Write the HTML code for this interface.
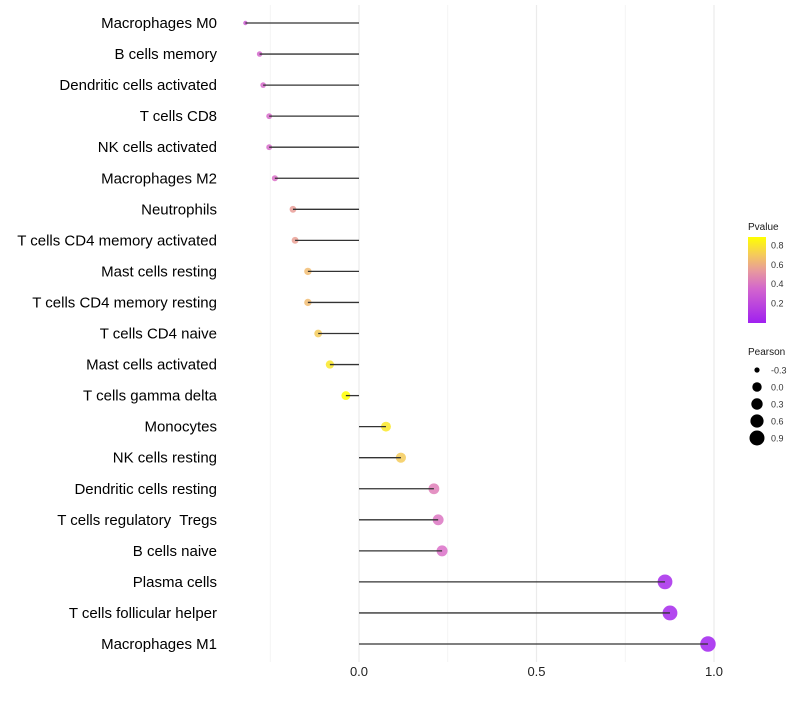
<!DOCTYPE html>
<html><head><meta charset="utf-8"><style>
body{margin:0;background:#fff;font-family:"Liberation Sans",sans-serif}
svg text{font-family:"Liberation Sans",sans-serif;white-space:pre}
</style></head><body>
<svg id="c" width="800" height="700"></svg>
<script>
const categories=["Macrophages M0","B cells memory","Dendritic cells activated","T cells CD8","NK cells activated","Macrophages M2","Neutrophils","T cells CD4 memory activated","Mast cells resting","T cells CD4 memory resting","T cells CD4 naive","Mast cells activated","T cells gamma delta","Monocytes","NK cells resting","Dendritic cells resting","T cells regulatory  Tregs","B cells naive","Plasma cells","T cells follicular helper","Macrophages M1"];
const pearson=[-0.32,-0.28,-0.27,-0.253,-0.253,-0.237,-0.186,-0.18,-0.144,-0.144,-0.115,-0.082,-0.037,0.076,0.118,0.211,0.223,0.234,0.862,0.876,0.983];
const pvalue=[0.3,0.35,0.37,0.38,0.38,0.4,0.55,0.56,0.65,0.65,0.7,0.8,0.88,0.8,0.7,0.45,0.42,0.4,0.05,0.04,0.01];
const xTicks=[0,0.5,1.0];
const xTickLabels=["0.0","0.5","1.0"];
const minorTicks=[-0.25,0.25,0.75];
const legendP=[0.8,0.6,0.4,0.2];
const legendR=[-0.3,0.0,0.3,0.6,0.9];

const svg=document.getElementById('c');
const NS='http://www.w3.org/2000/svg';
function mk(t,a,p){const e=document.createElementNS(NS,t);for(const k in a)e.setAttribute(k,a[k]);(p||svg).appendChild(e);return e;}
const x=v=>359+v*355;
const y=i=>23+i*31.05;
const rv=[-0.33,-0.3,0,0.3,0.6,0.9,1.0], rr=[2,2.6,4.7,5.7,6.6,7.5,7.8];
function rad(v){v=Math.max(-0.33,Math.min(1,v));for(let i=0;i<rv.length-1;i++){if(v<=rv[i+1]){const t=(v-rv[i])/(rv[i+1]-rv[i]);return rr[i]+(rr[i+1]-rr[i])*t;}}return 7.8;}
function col(p){
  const stops=[[0,[160,32,240]],[0.4,[218,112,200]],[0.62,[240,180,130]],[0.88,[255,255,0]]];
  p=Math.max(0,Math.min(0.88,p));
  for(let i=0;i<stops.length-1;i++){const[a,ca]=stops[i],[b,cb]=stops[i+1];
    if(p<=b){const t=(p-a)/(b-a);return 'rgb('+ca.map((c,j)=>Math.round(c+(cb[j]-c)*t)).join(',')+')';}}
  return 'rgb(255,255,0)';
}
minorTicks.forEach(v=>{const l=mk('line',{x1:x(v),x2:x(v),y1:5,y2:662,stroke:'#f2f2f2','stroke-width':0.8});

});
xTicks.forEach((v,i)=>{const l=mk('line',{x1:x(v),x2:x(v),y1:5,y2:662,stroke:'#ebebeb','stroke-width':1.2});


const t=mk('text',{x:x(v),y:676,'text-anchor':'middle','font-size':13,fill:'#222'});t.textContent=xTickLabels[i];

});
categories.forEach((c,i)=>{
  const t=mk('text',{x:217,y:y(i)+5,'text-anchor':'end','font-size':15,fill:'#000'});t.textContent=c;
  
  
  const d=mk('circle',{cx:x(pearson[i]),cy:y(i),r:rad(pearson[i]),fill:col(pvalue[i]),'fill-opacity':0.85});
  
  
  const l=mk('line',{x1:x(0),x2:x(pearson[i]),y1:y(i),y2:y(i),stroke:'#333','stroke-width':1.3});
  
  
});
let t=mk('text',{x:748,y:230,'font-size':10,fill:'#1a1a1a'});t.textContent='Pvalue';


const defs=mk('defs',{});const g=mk('linearGradient',{id:'gr',x1:0,y1:1,x2:0,y2:0},defs);
[0,0.2,0.4,0.6,0.8,1].forEach(f=>mk('stop',{offset:f,'stop-color':col(f*0.88)},g));
const bar=mk('rect',{x:748,y:237,width:18,height:86,fill:'url(#gr)'});


const py=p=>303-(p-0.2)*96.7;
legendP.forEach(p=>{const l=mk('text',{x:771,y:py(p)+3.5,'font-size':9,fill:'#333'});l.textContent=p.toFixed(1);

});
t=mk('text',{x:748,y:355,'font-size':10,fill:'#1a1a1a'});t.textContent='Pearson';


legendR.forEach((r,i)=>{const cy=370+i*17;
const c=mk('circle',{cx:757,cy:cy,r:rad(r),fill:'#000'});


const l=mk('text',{x:771,y:cy+3.5,'font-size':9,fill:'#333'});l.textContent=r.toFixed(1);

});
</script>
</body></html>
